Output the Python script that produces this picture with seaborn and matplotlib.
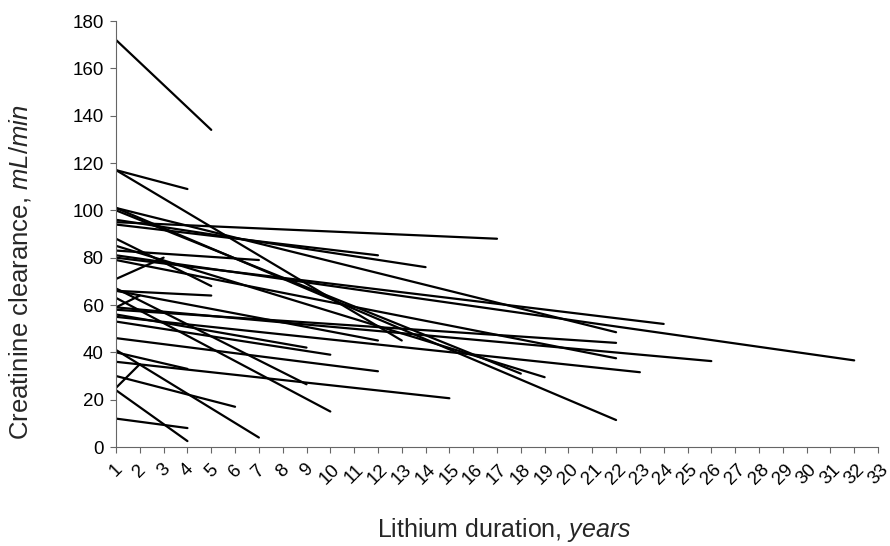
import matplotlib
matplotlib.use("Agg")
import matplotlib.pyplot as plt
import seaborn as sns
import pandas as pd

# Each patient: clearance at year 1 and at the last year of follow-up
start_years = [1] * 34
start_vals = [172, 117, 117, 95, 94, 96, 80, 101, 58, 79,
              55, 59, 81, 85, 100, 36, 101, 66, 56, 53,
              46, 67, 63, 66, 88, 40, 12, 24, 41, 30,
              71, 59, 25, 83]
end_years = [5, 4, 13, 17, 12, 14, 24, 22, 22, 22,
             23, 26, 32, 19, 18, 15, 22, 12, 9, 10,
             12, 9, 10, 5, 5, 4, 4, 4, 7, 6,
             3, 2, 2, 7]
end_vals = [134, 109, 45, 88, 81, 76, 52, 48.5, 44, 37.5,
            31.6, 36.3, 36.6, 29.5, 31, 20.6, 11.4, 45, 42, 39,
            32, 26.5, 15, 64, 68, 33, 8, 2.5, 4, 17,
            80, 64, 35, 79]
x_ticks = list(range(1, 34))
y_ticks = list(range(0, 181, 20))

rows = []
for i, (sy, sv, ey, ev) in enumerate(zip(start_years, start_vals, end_years, end_vals)):
    rows.append({"patient": i, "year": sy, "clearance": sv})
    rows.append({"patient": i, "year": ey, "clearance": ev})
df = pd.DataFrame(rows)

sns.set_theme(style="white")
plt.rcParams["font.family"] = ["Liberation Sans", "DejaVu Sans"]
plt.rcParams["mathtext.fontset"] = "custom"
plt.rcParams["mathtext.rm"] = "Liberation Sans"
plt.rcParams["mathtext.it"] = "Liberation Sans:italic"

fig = plt.figure(figsize=(8.9, 5.46), dpi=100)
ax = fig.add_axes([116 / 890, 1 - 447 / 546, (878 - 116) / 890, (447 - 21) / 546])

sns.lineplot(data=df, x="year", y="clearance", units="patient", estimator=None,
             color="black", linewidth=1.6, ax=ax, legend=False)

ax.set_xlim(1, 33)
ax.set_ylim(0, 180)
ax.set_xticks(x_ticks)
ax.set_xticklabels([str(t) for t in x_ticks], rotation=45, ha="center", va="top")
ax.set_yticks(y_ticks)
ax.tick_params(axis="both", which="major", direction="out", length=4, width=0.8,
               color="#666666", labelsize=13.5, labelcolor="black", bottom=True, left=True)
ax.tick_params(axis="x", pad=6)
ax.tick_params(axis="y", pad=5)
for side in ["top", "right"]:
    ax.spines[side].set_visible(False)
for side in ["left", "bottom"]:
    ax.spines[side].set_color("#666666")
    ax.spines[side].set_linewidth(0.8)

ax.set_xlabel(r"Lithium duration, $\mathit{years}$", fontsize=18)
ax.set_ylabel(r"Creatinine clearance, $\mathit{mL/min}$", fontsize=18.5)
ax.xaxis.set_label_coords((504 - 116) / 762, -(530 - 447) / 426, transform=ax.transAxes)
ax.yaxis.set_label_coords(-(116 - 20) / 762, (447 - 272) / 426, transform=ax.transAxes)
ax.xaxis.label.set_va("center")
ax.yaxis.label.set_va("center")
ax.grid(False)

fig.savefig("out.png", dpi=100)
